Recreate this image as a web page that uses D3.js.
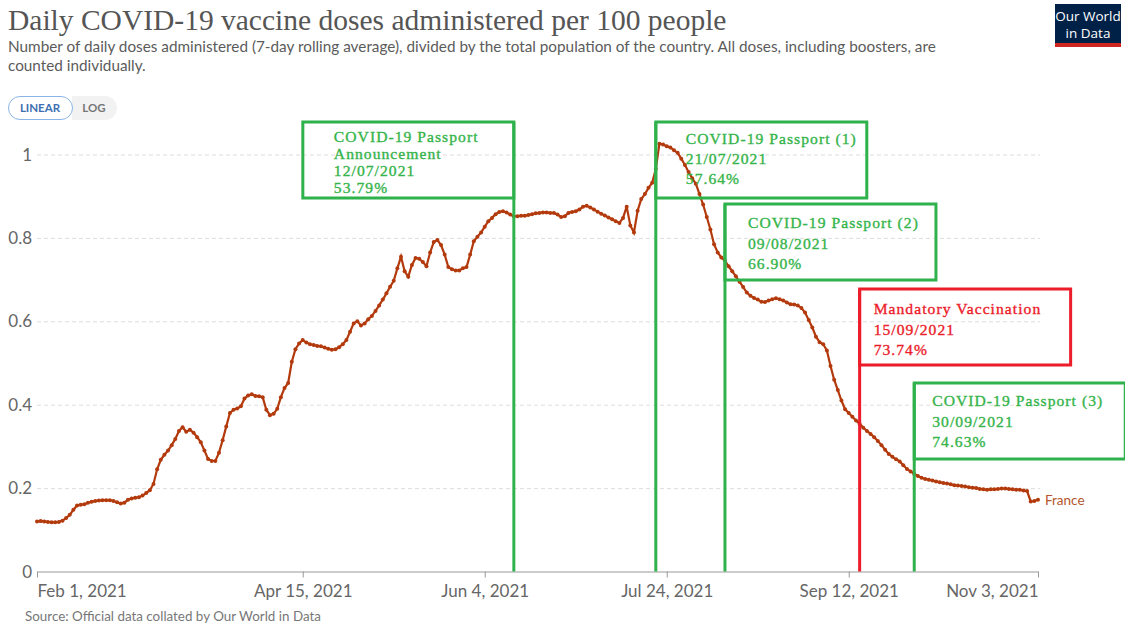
<!DOCTYPE html>
<meta charset="utf-8">
<style>
body { margin: 0; background: #fff; }
svg text { font-family: Lato, "Open Sans", sans-serif; }
.grid line { stroke: #ddd; stroke-dasharray: 4 3; }
.grid path { display: none; }
.x path { stroke: #999; }
.x line { stroke: #999; }
.anno text { font-family: "Liberation Serif", "DejaVu Serif", serif; }
</style>
<svg width="1125" height="625"></svg>
<script src="https://d3js.org/d3.v7.min.js"></script>
<script>
// daily values from Feb 1 2021, doses per 100 people
var startDate = "2021-02-01";
var values = [
  0.120,0.121,0.120,0.119,0.118,0.118,0.119,0.122,0.128,0.136,
  0.148,0.158,0.160,0.161,0.165,0.167,0.169,0.170,0.171,0.171,
  0.171,0.169,0.166,0.163,0.165,0.172,0.175,0.177,0.178,0.182,
  0.188,0.195,0.210,0.245,0.268,0.280,0.290,0.303,0.318,0.337,
  0.346,0.335,0.340,0.333,0.322,0.310,0.290,0.270,0.265,0.265,
  0.285,0.315,0.348,0.380,0.388,0.391,0.396,0.415,0.422,0.425,
  0.421,0.420,0.418,0.388,0.375,0.378,0.390,0.418,0.440,0.452,
  0.503,0.533,0.547,0.555,0.549,0.545,0.543,0.541,0.540,0.537,
  0.534,0.532,0.533,0.538,0.545,0.555,0.575,0.595,0.600,0.590,
  0.595,0.605,0.613,0.625,0.638,0.652,0.667,0.683,0.697,0.727,
  0.755,0.720,0.707,0.735,0.752,0.750,0.742,0.732,0.765,0.790,
  0.795,0.783,0.760,0.730,0.725,0.722,0.722,0.727,0.730,0.760,
  0.792,0.803,0.813,0.827,0.840,0.848,0.857,0.862,0.864,0.861,
  0.856,0.852,0.852,0.853,0.853,0.855,0.857,0.859,0.860,0.861,
  0.861,0.860,0.860,0.856,0.850,0.852,0.860,0.862,0.864,0.868,
  0.875,0.877,0.873,0.868,0.863,0.858,0.854,0.849,0.845,0.840,
  0.836,0.848,0.875,0.830,0.813,0.865,0.893,0.905,0.920,0.932,
  0.965,1.026,1.024,1.020,1.017,1.010,1.004,0.990,0.975,0.958,
  0.943,0.930,0.905,0.880,0.850,0.820,0.785,0.765,0.753,0.745,
  0.732,0.720,0.708,0.695,0.682,0.669,0.661,0.656,0.652,0.647,
  0.646,0.650,0.653,0.655,0.653,0.650,0.645,0.641,0.640,0.638,
  0.632,0.621,0.603,0.585,0.563,0.550,0.545,0.530,0.493,0.460,
  0.435,0.410,0.389,0.380,0.371,0.362,0.354,0.345,0.337,0.330,
  0.322,0.313,0.303,0.292,0.282,0.275,0.269,0.264,0.255,0.246,
  0.240,0.234,0.229,0.225,0.222,0.220,0.218,0.216,0.214,0.212,
  0.211,0.209,0.207,0.206,0.205,0.204,0.202,0.201,0.200,0.198,
  0.197,0.196,0.197,0.197,0.198,0.199,0.199,0.198,0.197,0.196,
  0.196,0.194,0.193,0.168,0.169,0.172
];
var yTicks = [0, 0.2, 0.4, 0.6, 0.8, 1];
var xTicks = ["2021-02-01", "2021-04-15", "2021-06-04", "2021-07-24", "2021-09-12", "2021-11-03"];

// annotations
var annoDates = ["2021-06-12", "2021-07-21", "2021-08-09", "2021-09-15", "2021-09-30"];
var annoLines = [
  ["COVID-19 Passport", "Announcement", "12/07/2021", "53.79%"],
  ["COVID-19 Passport (1)", "21/07/2021", "57.64%"],
  ["COVID-19 Passport (2)", "09/08/2021", "66.90%"],
  ["Mandatory Vaccination", "15/09/2021", "73.74%"],
  ["COVID-19 Passport (3)", "30/09/2021", "74.63%"]
];
var annoKind = ["green", "green", "green", "red", "green"];

var parse = d3.timeParse("%Y-%m-%d");
var t0 = parse(startDate);
var data = values.map(function(v, i) { return {date: d3.timeDay.offset(t0, i), value: v}; });

var svg = d3.select("svg");
var x = d3.scaleTime().domain([parse(xTicks[0]), parse(xTicks[xTicks.length - 1])]).range([37, 1038]);
var y = d3.scaleLinear().domain([0, 1]).range([571.5, 154.5]);

// header
svg.append("text").attr("x", 8).attr("y", 30)
  .style("font-family", "'Liberation Serif', serif").style("font-size", "29.5px").attr("fill", "#555")
  .text("Daily COVID-19 vaccine doses administered per 100 people");
svg.append("text").attr("x", 8).attr("y", 52).style("font-size", "15.3px").attr("fill", "#5b5b5b")
  .text("Number of daily doses administered (7-day rolling average), divided by the total population of the country. All doses, including boosters, are");
svg.append("text").attr("x", 8).attr("y", 71).style("font-size", "15.3px").attr("fill", "#5b5b5b")
  .text("counted individually.");

// linear / log toggle
svg.append("rect").attr("x", 72).attr("y", 96).attr("width", 45).attr("height", 24).attr("rx", 12).attr("fill", "#f2f2f2");
svg.append("rect").attr("x", 72).attr("y", 96).attr("width", 20).attr("height", 24).attr("fill", "#f2f2f2");
svg.append("rect").attr("x", 8.5).attr("y", 96.5).attr("width", 64).attr("height", 23).attr("rx", 11.5)
  .attr("fill", "#fff").attr("stroke", "#8ab4e8");
svg.append("text").attr("x", 40).attr("y", 112).attr("text-anchor", "middle").style("font-size", "11.5px")
  .style("font-weight", "700").attr("fill", "#3e6fb0").text("LINEAR");
svg.append("text").attr("x", 94).attr("y", 112).attr("text-anchor", "middle").style("font-size", "11.5px")
  .style("font-weight", "700").attr("fill", "#777").text("LOG");

// logo
var logo = svg.append("g");
logo.append("rect").attr("x", 1055).attr("y", 4).attr("width", 66).attr("height", 43).attr("fill", "#002147");
logo.append("rect").attr("x", 1055).attr("y", 43).attr("width", 66).attr("height", 4).attr("fill", "#ce261e");
logo.append("text").attr("x", 1088).attr("y", 21).attr("text-anchor", "middle").style("font-size", "13.5px")
  .attr("fill", "#fff").style("font-family", "'Open Sans', sans-serif").text("Our World");
logo.append("text").attr("x", 1088).attr("y", 38).attr("text-anchor", "middle").style("font-size", "13.5px")
  .attr("fill", "#fff").style("font-family", "'Open Sans', sans-serif").text("in Data");

// grid + y labels
svg.append("g").attr("class", "grid").attr("transform", "translate(37,0)")
  .call(d3.axisRight(y).tickValues(yTicks.slice(1)).tickSize(1003).tickFormat(""));
svg.append("g").selectAll("text").data(yTicks).enter().append("text")
  .attr("x", 32).attr("y", function(d) { return y(d) + 6; })
  .attr("text-anchor", "end").style("font-size", "17px").attr("fill", "#666")
  .text(function(d) { return d3.format("")(d); });

// x axis
var xa = svg.append("g").attr("class", "x").attr("transform", "translate(0," + y(0) + ")")
  .call(d3.axisBottom(x).tickValues(xTicks.map(parse)).tickSize(6).tickSizeOuter(0).tickFormat(d3.timeFormat("%b %-d, %Y")));
xa.selectAll("text").style("font-size", "17px").attr("fill", "#666").attr("dy", "0.95em")
  .attr("text-anchor", function(d, i) { return i == 0 ? "start" : (i == xTicks.length - 1 ? "end" : "middle"); });

// series
var col = "#b33a0c";
svg.append("path").datum(data).attr("fill", "none").attr("stroke", col).attr("stroke-width", 2.2)
  .attr("d", d3.line().x(function(d) { return x(d.date); }).y(function(d) { return y(d.value); }));
svg.append("g").selectAll("circle").data(data).enter().append("circle")
  .attr("cx", function(d) { return x(d.date); }).attr("cy", function(d) { return y(d.value); })
  .attr("r", 2).attr("fill", col);
var last = data[data.length - 1];
svg.append("text").attr("x", x(last.date) + 7).attr("y", y(last.value) + 5)
  .style("font-size", "13.5px").attr("fill", "#b5552c").text("France");

// annotation boxes (layout only)
var boxLayout = [
  {side: "left", top: 122, dx: 31, dy: 20, lh: 17},
  {side: "right", top: 122, dx: 30, dy: 22, lh: 20},
  {side: "right", top: 204, dx: 23, dy: 24, lh: 20.5},
  {side: "right", top: 289, dx: 14, dy: 25, lh: 20.5},
  {side: "right", top: 383, dx: 18, dy: 23, lh: 20.5}
];
var stroke = {green: "#2fb24c", red: "#ec1c2a"};
var textCol = {green: "#35b44a", red: "#ec1c2a"};
var boxW = 211, boxH = 76, fs = 15.6;
var anno = svg.append("g").attr("class", "anno");

// widen the serif text (letter spacing) so "COVID-19 Passport (1)" spans about 171px
var probe = anno.append("text").style("font-size", fs + "px").text(annoLines[1][0]);
var ls = (171 - probe.node().getComputedTextLength()) / annoLines[1][0].length;
probe.remove();

annoDates.forEach(function(ds, i) {
  var lx = x(parse(ds)), L = boxLayout[i], k = annoKind[i];
  var bx = L.side == "left" ? lx - boxW : lx;
  anno.append("rect").attr("x", bx).attr("y", L.top).attr("width", boxW).attr("height", boxH)
    .attr("fill", "none").attr("stroke", stroke[k]).attr("stroke-width", 3);
  anno.append("line").attr("x1", lx).attr("x2", lx).attr("y1", L.top).attr("y2", y(0))
    .attr("stroke", stroke[k]).attr("stroke-width", 3);
  annoLines[i].forEach(function(t, j) {
    anno.append("text").attr("x", bx + L.dx).attr("y", L.top + L.dy + j * L.lh)
      .style("font-size", fs + "px").style("letter-spacing", ls + "px").attr("fill", textCol[k])
      .attr("stroke", textCol[k]).attr("stroke-width", 0.35).text(t);
  });
});

// source
svg.append("text").attr("x", 25).attr("y", 621).style("font-size", "13.4px").attr("fill", "#777")
  .text("Source: Official data collated by Our World in Data");
</script>
